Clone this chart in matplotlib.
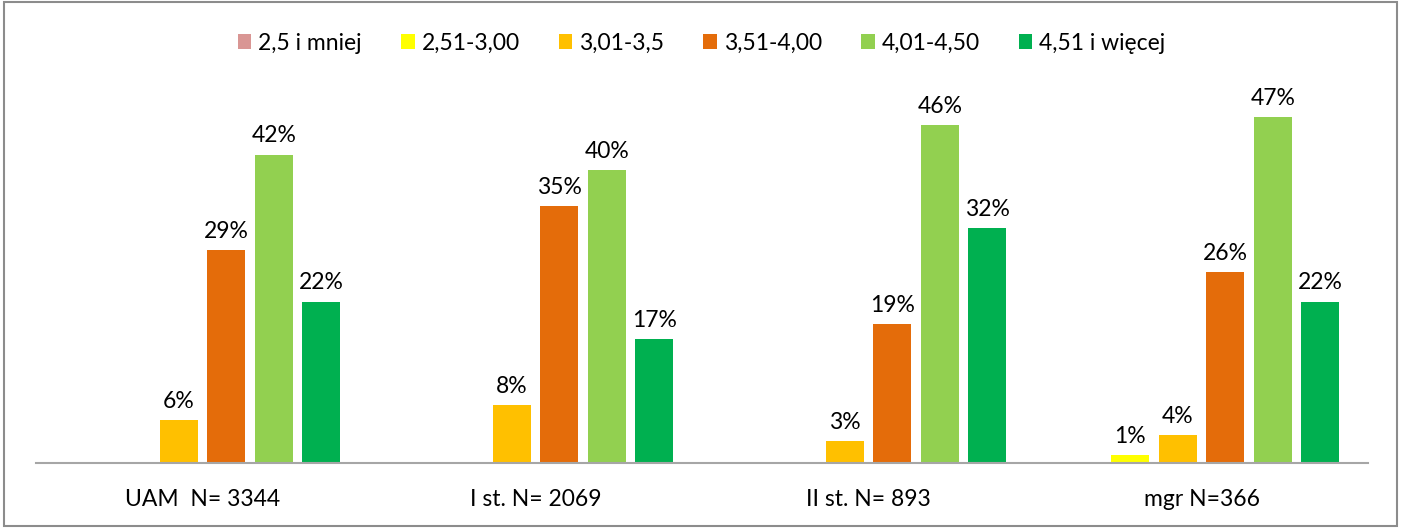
"""Grouped bar chart: grade distribution by study level."""
import matplotlib
matplotlib.use("Agg")
import matplotlib.pyplot as plt
from matplotlib.patches import Rectangle
import numpy as np

plt.rcParams["font.family"] = ["Lato", "DejaVu Sans"]

categories = ["UAM  N= 3344", "I st. N= 2069", "II st. N= 893", "mgr N=366"]
series = ["2,5 i mniej", "2,51-3,00", "3,01-3,5", "3,51-4,00", "4,01-4,50", "4,51 i więcej"]
colors = ["#d99694", "#ffff00", "#ffc000", "#e46c0a", "#92d050", "#00b050"]

# percent values per series, one per category
v_25 = [0, 0, 0, 0]
v_251 = [0, 0, 0, 1.1]
v_301 = [5.8, 7.9, 3.0, 3.8]
v_351 = [28.9, 34.9, 18.9, 25.9]
v_401 = [41.9, 39.8, 45.9, 47.0]
v_451 = [21.9, 16.8, 31.9, 21.9]
values = [v_25, v_251, v_301, v_351, v_401, v_451]

W, H = 1403, 528
fs = 16.5
fig = plt.figure(figsize=(W / 100, H / 100), dpi=100)
ax = fig.add_axes([36 / W, 65 / H, (1368 - 36) / W, (463 - 95) / H])

x = np.arange(len(categories))
slot = 47.5 / 333
bw = 38 / 333
for j, (name, vals, c) in enumerate(zip(series, values, colors)):
    pos = x + (j - 2.5) * slot
    bars = ax.bar(pos, vals, width=bw, color=c, label=name)
    for b, v in zip(bars, vals):
        if v > 0:
            ax.annotate(f"{v:.0f}%", (b.get_x() + b.get_width() / 2, v),
                        xytext=(0, 6), textcoords="offset points",
                        ha="center", va="bottom", fontsize=fs)

ax.set_xlim(-0.5, len(categories) - 0.5)
ax.set_ylim(0, 50)
ax.set_yticks([])
ax.set_xticks(x)
ax.set_xticklabels(categories, fontsize=fs)
ax.tick_params(axis="x", length=0, pad=19)
for s in ["top", "left", "right"]:
    ax.spines[s].set_visible(False)
ax.spines["bottom"].set_color("#a6a6a6")
ax.spines["bottom"].set_linewidth(1.5)

ax.legend(loc="center", bbox_to_anchor=(0.5, 1 - 43 / H), bbox_transform=fig.transFigure,
          ncol=6, frameon=False, fontsize=fs, handlelength=0.6, handleheight=0.6,
          handletextpad=0.3, columnspacing=1.7)

fig.patches.append(Rectangle((4 / W, 2 / H), (1397 - 4) / W, (526 - 2) / H,
                             transform=fig.transFigure, fill=False,
                             edgecolor="#8c8c8c", linewidth=1.5))

fig.savefig("out.png", dpi=100)
